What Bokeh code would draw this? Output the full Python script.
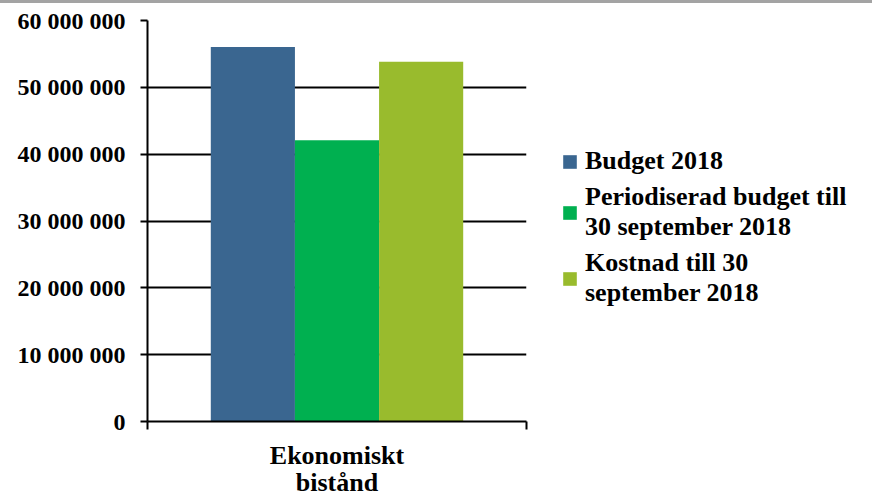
from bokeh.plotting import figure
from bokeh.models import (Range1d, LinearAxis, FixedTicker,
                          Legend, LegendItem, ColumnDataSource)
from bokeh.transform import dodge
from bokeh.embed import file_html
from bokeh.resources import INLINE

# ---- data ----
categories = ["Ekonomiskt\nbistånd"]
series_names = ["Budget 2018",
                "Periodiserad budget till\n30 september 2018",
                "Kostnad till 30\nseptember 2018"]
budget_2018 = [56050000]
periodiserad_budget = [42080000]
kostnad = [53820000]
y_ticks = [0, 10000000, 20000000, 30000000, 40000000, 50000000, 60000000]
y_tick_labels = ["0", "10 000 000", "20 000 000", "30 000 000",
                 "40 000 000", "50 000 000", "60 000 000"]
colors = ["#3A6690", "#00B050", "#99BB2D"]

FONT = "Liberation Serif"

cat_pos = list(range(len(categories)))
src = ColumnDataSource(dict(x=cat_pos, budget=budget_2018,
                            period=periodiserad_budget, kostnad=kostnad))

p = figure(frame_width=379, frame_height=401,
           x_range=Range1d(-0.5, len(categories) - 0.5),
           y_range=Range1d(0, 60000000),
           output_backend="svg", toolbar_location=None, x_axis_location=None,
           min_border_left=147, min_border_right=346, min_border_top=17,
           min_border_bottom=68)
p.outline_line_color = None
p.xgrid.visible = False
p.styles = {"border-top": "3px solid #a3a3a3", "border-bottom": "3px solid #a3a3a3"}

bw = 0.222
r1 = p.vbar(x=dodge("x", -bw), top="budget", width=bw, source=src,
            fill_color=colors[0], line_color=None)
r2 = p.vbar(x=dodge("x", 0), top="period", width=bw, source=src,
            fill_color=colors[1], line_color=None)
r3 = p.vbar(x=dodge("x", bw), top="kostnad", width=bw, source=src,
            fill_color=colors[2], line_color=None)

# y axis
yax = p.yaxis[0]
yax.ticker = FixedTicker(ticks=y_ticks)
yax.major_label_overrides = {t: l for t, l in zip(y_ticks, y_tick_labels)}
yax.major_label_text_font = FONT
yax.major_label_text_font_style = "bold"
yax.major_label_text_font_size = "24px"
yax.major_label_text_color = "black"
yax.axis_line_width = 2
yax.axis_line_color = "black"
yax.major_tick_line_width = 2
yax.major_tick_line_color = "black"
yax.major_tick_out = 7
yax.major_tick_in = 0
yax.minor_tick_line_color = None
yax.major_label_standoff = 15

p.ygrid.ticker = FixedTicker(ticks=y_ticks)
p.ygrid.grid_line_color = "black"
p.ygrid.grid_line_width = 2

# x axis: line with ticks at category boundaries
edges = [c - 0.5 for c in cat_pos] + [cat_pos[-1] + 0.5]
edge_axis = LinearAxis(ticker=FixedTicker(ticks=edges))
edge_axis.major_label_overrides = {e: "" for e in edges}
edge_axis.major_label_text_font_size = "1px"
edge_axis.major_label_standoff = 0
edge_axis.axis_line_width = 2
edge_axis.axis_line_color = "black"
edge_axis.major_tick_line_width = 2
edge_axis.major_tick_line_color = "black"
edge_axis.major_tick_out = 8
edge_axis.major_tick_in = 0
edge_axis.minor_tick_line_color = None
p.add_layout(edge_axis, "below")

cat_axis = LinearAxis(ticker=FixedTicker(ticks=cat_pos))
cat_axis.major_label_overrides = {c: n for c, n in zip(cat_pos, categories)}
cat_axis.axis_line_color = None
cat_axis.major_tick_line_color = None
cat_axis.minor_tick_line_color = None
cat_axis.major_label_standoff = 5
cat_axis.major_label_text_font = FONT
cat_axis.major_label_text_font_style = "bold"
cat_axis.major_label_text_font_size = "26px"
cat_axis.major_label_text_color = "black"
cat_axis.major_label_text_line_height = 0.95
p.add_layout(cat_axis, "below")

legend = Legend(items=[LegendItem(label=series_names[0], renderers=[r1]),
                       LegendItem(label=series_names[1], renderers=[r2]),
                       LegendItem(label=series_names[2], renderers=[r3])],
                location=(35, 113))
legend.border_line_color = None
legend.background_fill_alpha = 0
legend.label_text_font = FONT
legend.label_text_font_style = "bold"
legend.label_text_font_size = "26px"
legend.label_text_line_height = 1.12
legend.label_text_color = "black"
legend.glyph_width = 17
legend.glyph_height = 17
legend.label_standoff = 7
legend.spacing = 6
legend.padding = 0
legend.margin = 0
p.add_layout(legend, "right")

open("out.html", "w").write(file_html(p, INLINE))
